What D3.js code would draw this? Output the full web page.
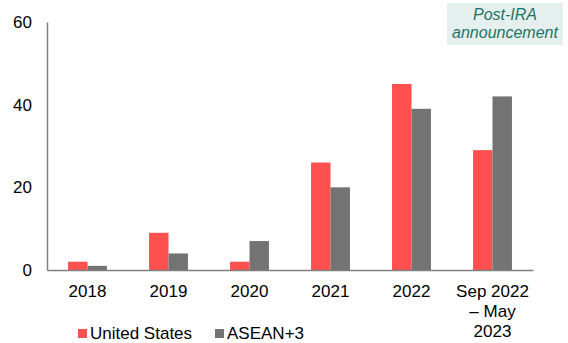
<!DOCTYPE html>
<html>
<head>
<meta charset="utf-8">
<script src="https://cdn.jsdelivr.net/npm/d3@7"></script>
<style>
  html, body { margin: 0; padding: 0; background: #fff; }
  svg { display: block; font-family: "Liberation Sans", Arial, sans-serif; }
</style>
</head>
<body>
<svg id="chart" width="568" height="343"></svg>
<script>
// Periods on the x axis (multi-line labels split on "\n")
const categories = ["2018", "2019", "2020", "2021", "2022", "Sep 2022\n\u2013 May\n2023"];
const seriesNames = ["United States", "ASEAN+3"];
const unitedStates = [2, 9, 2, 26, 45, 29];
const aseanPlus3 = [1, 4, 7, 20, 39, 42];
const yTicks = [0, 20, 40, 60];
const colors = ["#ff5050", "#737373"];

const FONT = "Liberation Sans, Arial, sans-serif";
const svg = d3.select("#chart");
const margin = { left: 47, right: 35, top: 22, bottom: 73 };
const W = 568, H = 343;

const x = d3.scaleBand().domain(categories).range([margin.left, W - margin.right]).paddingInner(0.52).paddingOuter(0.26);
const xs = d3.scaleBand().domain(seriesNames).range([0, x.bandwidth()]);
const y = d3.scaleLinear().domain([0, 60]).range([H - margin.bottom, margin.top]);

const rows = categories.map((c, i) => ({ cat: c, vals: [unitedStates[i], aseanPlus3[i]] }));

// Bars
const g = svg.append("g");
g.selectAll("g.grp").data(rows).join("g")
  .attr("transform", d => `translate(${x(d.cat)},0)`)
  .selectAll("rect").data(d => d.vals.map((v, k) => ({ v, k })))
  .join("rect")
  .attr("x", d => xs(seriesNames[d.k]))
  .attr("width", xs.bandwidth())
  .attr("y", d => y(d.v))
  .attr("height", d => y(0) - y(d.v))
  .attr("fill", d => colors[d.k]);

// Y axis: line only, labels on the left
const yAxis = svg.append("g").attr("transform", `translate(${margin.left},0)`)
  .call(d3.axisLeft(y).tickValues(yTicks).tickSize(0).tickPadding(15));
yAxis.select(".domain").attr("stroke", "#7f7f7f").attr("stroke-width", 1.5);
yAxis.selectAll("text").attr("font-size", 17).attr("fill", "#000").attr("font-family", FONT);

// X axis
const xAxis = svg.append("g").attr("transform", `translate(0,${y(0)})`)
  .call(d3.axisBottom(x).tickSize(0).tickFormat(""));
xAxis.select(".domain").attr("stroke", "#7f7f7f").attr("stroke-width", 1.5);
xAxis.selectAll(".tick").each(function (d) {
  const lines = d.split("\n");
  const t = d3.select(this).append("text")
    .attr("text-anchor", "middle").attr("font-size", 17).attr("fill", "#000")
    .attr("font-family", FONT);
  lines.forEach((ln, i) => {
    t.append("tspan").attr("x", 0).attr("y", 26.5 + i * 20).text(ln);
  });
});

// Annotation box
const ann = svg.append("g").attr("font-family", FONT);
ann.append("rect").attr("x", 447).attr("y", 3).attr("width", 116).attr("height", 42).attr("fill", "#e5efee");
ann.append("text").attr("x", 505).attr("y", 19.5).attr("text-anchor", "middle")
  .attr("font-size", 16).attr("font-style", "italic").attr("fill", "#1d7466").text("Post-IRA");
ann.append("text").attr("x", 505).attr("y", 38).attr("text-anchor", "middle")
  .attr("font-size", 16).attr("font-style", "italic").attr("fill", "#1d7466").text("announcement");

// Legend
const legendX = [78, 215];
const leg = svg.append("g").attr("font-family", FONT);
seriesNames.forEach((name, k) => {
  leg.append("rect").attr("x", legendX[k]).attr("y", 329).attr("width", 9).attr("height", 9).attr("fill", colors[k]);
  leg.append("text").attr("x", legendX[k] + 12).attr("y", 339).attr("font-size", 17).attr("fill", "#000").text(name);
});
</script>
</body>
</html>
